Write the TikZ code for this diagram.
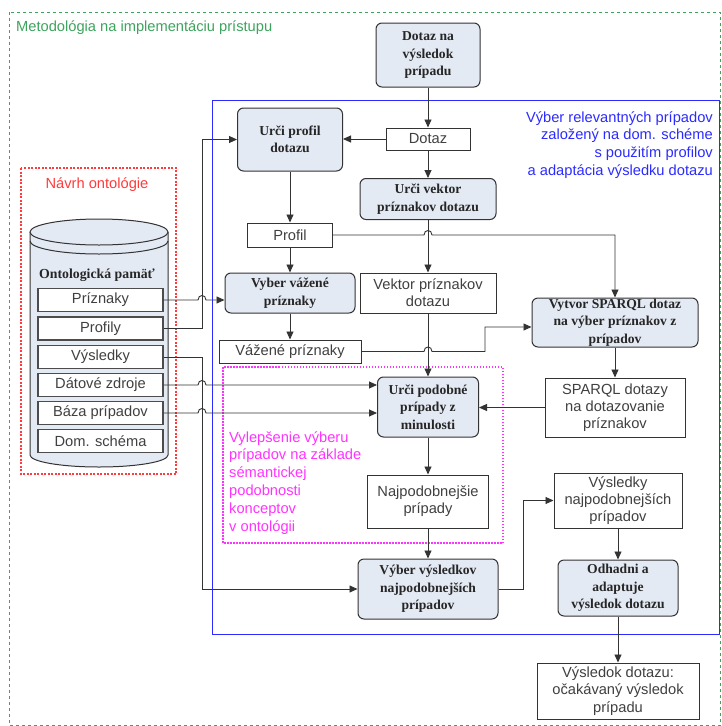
\documentclass[tikz,border=0pt]{standalone}
\usepackage{fontspec}
\setmainfont{Liberation Serif}
\newfontfamily\arialf{Liberation Sans}
\usetikzlibrary{arrows.meta}
\definecolor{boxfill}{HTML}{E4EAF4}
\definecolor{framegreen}{HTML}{3DA35D}
\definecolor{frameblue}{HTML}{2B2BFF}
\definecolor{framered}{HTML}{FF3B3B}
\definecolor{framepink}{HTML}{FF33FF}
\definecolor{edgec}{HTML}{333333}
\begin{document}
\begin{tikzpicture}[x=1pt,y=-1pt,
  proc/.style={draw=edgec, line width=1pt, fill=boxfill, rounded corners=6pt, align=center, inner sep=0pt,
    font=\fontsize{13.6}{17.5}\selectfont\bfseries, text=black!85},
  datab/.style={draw=edgec, line width=1pt, fill=white, align=center, inner sep=0pt,
    font=\arialf\fontsize{14.67}{17.2}\selectfont, text=black!75},
  cbox/.style={datab, draw=black!70, line width=1.4pt, minimum width=125pt, minimum height=23pt},
  conn/.style={draw=edgec, line width=0.9pt},
  arr/.style={conn, -{Triangle[length=8pt,width=7pt]}},
  lbl/.style={inner sep=0pt, font=\arialf\fontsize{14.67}{17.8}\selectfont},
]
\useasboundingbox (0,0) rectangle (722,726);
% frames
\draw[framegreen, dashed, line width=0.8pt] (9,12) rectangle (720.5,725);
\node[lbl, anchor=base west, text=framegreen] (title) at (16,31.5) {Metodológia na implementáciu prístupu};
\draw[frameblue, line width=0.9pt] (212,100) rectangle (719.5,634);
\node[lbl, anchor=north east, align=right, text=frameblue] (bluetxt) at (713,111) {Výber relevantných prípadov\\založený na dom. schéme\\s použitím profilov\\a adaptácia výsledku dotazu};
\draw[framered, dash pattern=on 2pt off 1.5pt, line width=1.1pt] (21,168) rectangle (176,474);
\node[lbl, anchor=base, text=framered] (redtxt) at (97,188) {Návrh ontológie};
\draw[framepink, dash pattern=on 1.5pt off 1.5pt, line width=1.3pt] (223,367) rectangle (503,543);
\node[lbl, anchor=north west, align=left, text=framepink] (pinktxt) at (229,431) {Vylepšenie výberu\\prípadov na základe\\sémantickej\\podobnosti\\konceptov\\v ontológii};

% cylinder
\filldraw[fill=boxfill, draw=edgec, line width=1pt] (30,232) -- (30,455) arc[start angle=180,end angle=360,x radius=69pt,y radius=12pt] -- (168,232);
\filldraw[fill=boxfill, draw=edgec, line width=1pt] (99,232) ellipse [x radius=69pt, y radius=13pt];
\draw[edgec, line width=1pt] (30,241) arc[start angle=180,end angle=360,x radius=69pt,y radius=13pt];
\node[inner sep=0pt, font=\fontsize{13.8}{17}\selectfont\bfseries, text=black!85] (mem) at (97,275) {Ontologická pamäť};
\node[cbox] (c1) at (100.5,300) {Príznaky};
\node[cbox] (c2) at (100.5,328.5) {Profily};
\node[cbox] (c3) at (100.5,357) {Výsledky};
\node[cbox] (c4) at (100.5,385) {Dátové zdroje};
\node[cbox] (c5) at (100.5,413) {Báza prípadov};
\node[cbox] (c6) at (100.5,441) {Dom. schéma};

% main nodes
\node[proc, minimum width=104pt, minimum height=64pt] (q) at (428,55) {Dotaz na\\výsledok\\prípadu};
\node[datab, minimum width=84pt, minimum height=22pt] (dotaz) at (428,139) {Dotaz};
\node[proc, minimum width=136pt, minimum height=41pt] (vek) at (428,199) {Urči vektor\\príznakov dotazu};
\node[proc, minimum width=105pt, minimum height=63pt] (prof) at (290,139.5) {Urči profil\\dotazu};
\node[datab, minimum width=85pt, minimum height=24pt] (profil) at (290,235) {Profil};
\node[proc, minimum width=130pt, minimum height=40pt] (vyber) at (290,293) {Vyber vážené\\príznaky};
\node[datab, minimum width=142pt, minimum height=23pt] (vaz) at (290,351.5) {Vážené príznaky};
\node[datab, minimum width=136pt, minimum height=40pt] (vpd) at (428,293) {Vektor príznakov\\dotazu};
\node[proc, minimum width=101pt, minimum height=60pt] (podob) at (428,407) {Urči podobné\\prípady z\\minulosti};
\node[proc, minimum width=166pt, minimum height=49pt] (sparql) at (615,322.5) {Vytvor SPARQL dotaz\\na výber príznakov z\\prípadov};
\node[datab, minimum width=140pt, minimum height=59pt] (sdot) at (615,407.5) {SPARQL dotazy\\na dotazovanie\\príznakov};
\node[datab, minimum width=121pt, minimum height=53pt] (najp) at (428,501.5) {Najpodobnejšie\\prípady};
\node[proc, minimum width=140pt, minimum height=60pt] (vvys) at (428,589) {Výber výsledkov\\najpodobnejších\\prípadov};
\node[datab, minimum width=128pt, minimum height=55pt] (vnp) at (618,500.5) {Výsledky\\najpodobnejších\\prípadov};
\node[proc, minimum width=120pt, minimum height=56pt] (odh) at (618,588) {Odhadni a\\adaptuje\\výsledok dotazu};
\node[datab, minimum width=162pt, minimum height=56pt] (res) at (618,691) {Výsledok dotazu:\\očakávaný výsledok\\prípadu};

% connectors
\draw[arr] (q) -- (dotaz);
\draw[arr] (dotaz) -- (vek);
\draw[arr] (dotaz.west) -- (dotaz.west -| prof.east);
\draw[arr] (prof) -- (profil);
\draw[arr] (profil) -- (vyber);
\draw[arr] (vyber) -- (vaz);
\draw[arr] (vek) -- (vpd);
\draw[arr] (profil.east) -- (424,235) .. controls (424,229) and (432,229) .. (432,235) -- (615,235) -- (sparql.north);
\draw[arr] (vaz.east) -- (424,351.5) .. controls (424,345.5) and (432,345.5) .. (432,351.5) -- (485,351.5) -- (485,327) -- (sparql.west |- 0,327);
\draw[arr] (vpd) -- (podob);
\draw[arr] (sparql) -- (sdot);
\draw[arr] (sdot.west) -- (podob.east |- sdot.west);
\draw[arr] (podob) -- (najp);
\draw[arr] (najp) -- (vvys);
\draw[arr] (vvys.east) -- (523,589) |- (vnp.west);
\draw[arr] (vnp) -- (odh);
\draw[arr] (odh) -- (res);
% from ontology memory
\draw[arr] (c1.east) -- (198,300) .. controls (198,294) and (206,294) .. (206,300) -- (vyber.west |- 0,300);
\draw[arr] (c2.east) -- (202,328.5) |- (prof.west);
\draw[arr] (c3.east) -- (202,357) |- (vvys.west);
\draw[arr] (c4.east) -- (198,385) .. controls (198,379) and (206,379) .. (206,385) -- (podob.west |- 0,385);
\draw[arr] (c5.east) -- (198,413) .. controls (198,407) and (206,407) .. (206,413) -- (podob.west |- 0,413);
\end{tikzpicture}
\end{document}
